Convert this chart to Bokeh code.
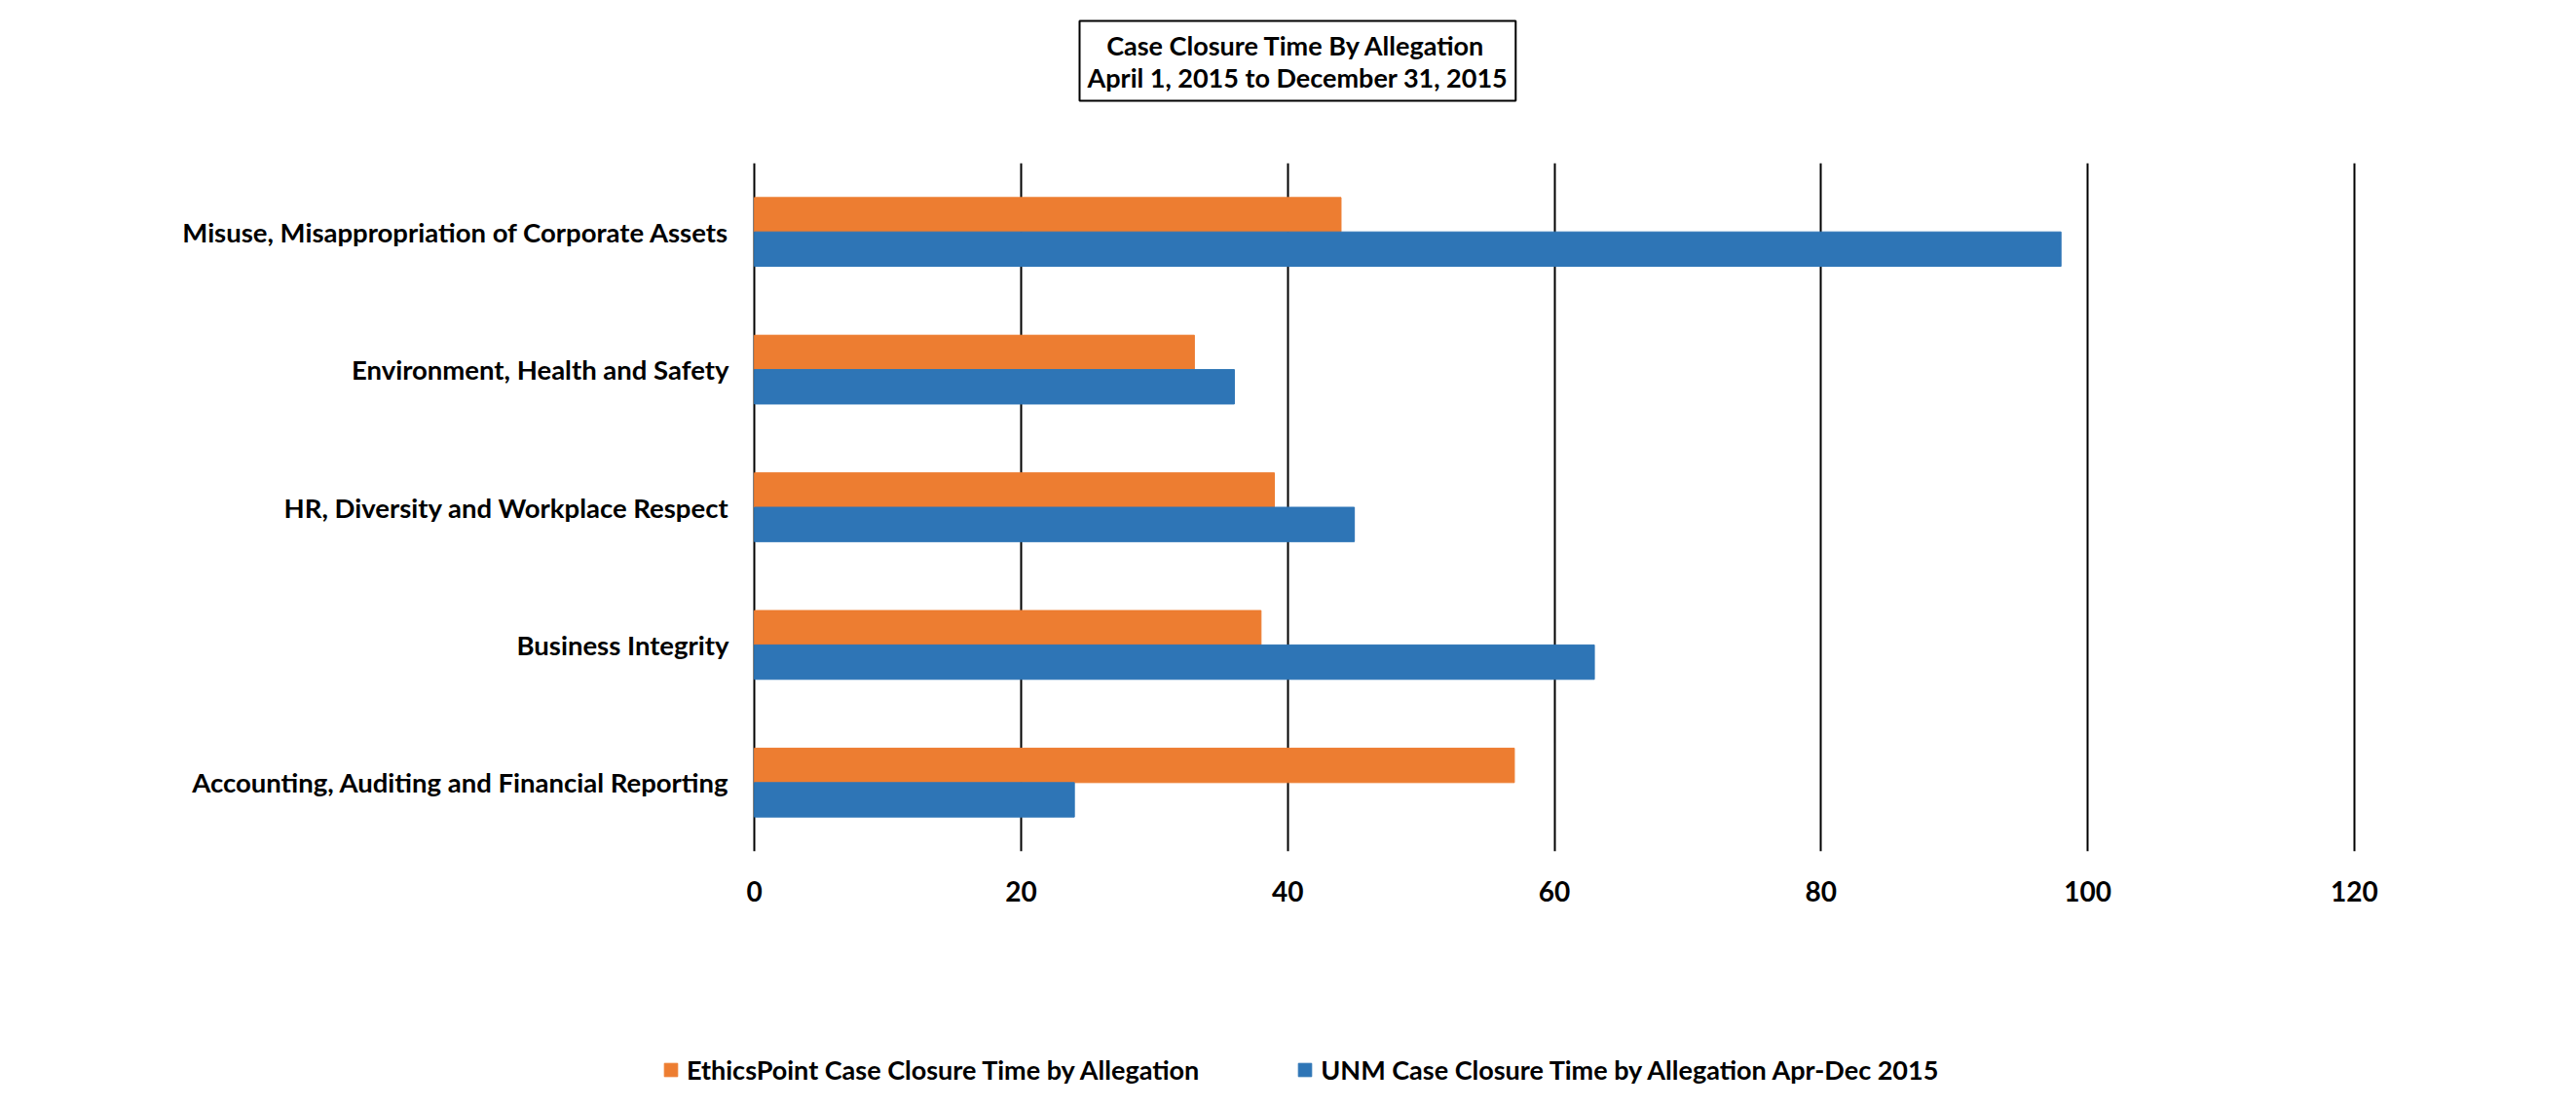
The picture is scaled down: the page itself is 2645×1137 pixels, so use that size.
from bokeh.plotting import figure
from bokeh.layouts import column
from bokeh.models import Legend, LegendItem, ColumnDataSource, FactorRange, FixedTicker, Title
from bokeh.transform import dodge
from bokeh.embed import file_html
from bokeh.resources import INLINE

categories = [
    "Accounting, Auditing and Financial Reporting",
    "Business Integrity",
    "HR, Diversity and Workplace Respect",
    "Environment, Health and Safety",
    "Misuse, Misappropriation of Corporate Assets",
]
ethicspoint = [57, 38, 39, 33, 44]
unm = [24, 63, 45, 36, 98]
x_ticks = [0, 20, 40, 60, 80, 100, 120]
series_names = ["EthicsPoint Case Closure Time by Allegation",
                "UNM Case Closure Time by Allegation Apr-Dec 2015"]
title_lines = ["Case Closure Time By Allegation", "April 1, 2015 to December 31, 2015"]

FONT = "Lato"
ORANGE = "#ED7D31"
BLUE = "#2E75B6"

src = ColumnDataSource(dict(cat=categories, ep=ethicspoint, unm=unm))

W, H = 2645, 1137
MAIN_H = 1060

p = figure(width=W, height=MAIN_H, y_range=FactorRange(*categories, range_padding=0),
           x_range=(-0.3, 120.3), output_backend="svg", toolbar_location=None,
           title=None, frame_align=False,
           min_border_left=770, min_border_right=W - 2421,
           min_border_top=167, min_border_bottom=MAIN_H - 874)

r1 = p.hbar(y=dodge("cat", 0.125, range=p.y_range), right="ep", left=0, height=0.25,
            source=src, color=ORANGE)
r2 = p.hbar(y=dodge("cat", -0.125, range=p.y_range), right="unm", left=0, height=0.25,
            source=src, color=BLUE)

p.outline_line_color = None
p.background_fill_color = "white"
p.border_fill_color = "white"

p.xgrid.ticker = FixedTicker(ticks=x_ticks)
p.xgrid.grid_line_color = "black"
p.xgrid.grid_line_width = 2
p.ygrid.grid_line_color = None

p.xaxis.ticker = FixedTicker(ticks=x_ticks)
p.xaxis.axis_line_color = None
p.xaxis.major_tick_line_color = None
p.xaxis.minor_tick_line_color = None
p.xaxis.major_label_text_font = FONT
p.xaxis.major_label_text_font_style = "bold"
p.xaxis.major_label_text_font_size = "28px"
p.xaxis.major_label_text_color = "black"
p.xaxis.major_label_standoff = 24

p.yaxis.axis_line_color = None
p.yaxis.major_tick_line_color = None
p.yaxis.minor_tick_line_color = None
p.yaxis.major_label_text_font = FONT
p.yaxis.major_label_text_font_style = "bold"
p.yaxis.major_label_text_font_size = "27.5px"
p.yaxis.major_label_text_color = "black"
p.yaxis.major_label_standoff = 16

# spacer between title box and plot frame
spacer = Title(text=" ", text_font_size="1px", standoff=43)
p.add_layout(spacer, "above")

title = Title(text="\u00a0" * 3 + title_lines[0] + "\n" + title_lines[1],
              text_font=FONT, text_font_style="bold",
              text_font_size="27px", text_color="black", align="left", offset=338,
              border_line_color="black", border_line_width=2, padding=8,
              standoff=36)
p.add_layout(title, "above")

# legend strip below the chart (same data, bars kept outside its visible range)
lf = figure(width=W, height=H - MAIN_H, x_range=(-10, -5),
            y_range=FactorRange(*categories), x_axis_type=None, y_axis_type=None,
            output_backend="svg", toolbar_location=None, min_border=0,
            frame_align=False)
lf.outline_line_color = None
lf.grid.grid_line_color = None
lf.border_fill_color = "white"
lf.background_fill_color = "white"
lr1 = lf.hbar(y="cat", right="ep", left=0, height=0.25, source=src, color=ORANGE)
lr2 = lf.hbar(y="cat", right="unm", left=0, height=0.25, source=src, color=BLUE)

legend = Legend(items=[LegendItem(label=series_names[0], renderers=[lr1]),
                       LegendItem(label=series_names[1], renderers=[lr2])],
                orientation="horizontal", location=(680, 22))
legend.label_text_font = FONT
legend.label_text_font_style = "bold"
legend.label_text_font_size = "27px"
legend.label_text_color = "black"
legend.glyph_width = 17
legend.glyph_height = 17
legend.label_standoff = 8
legend.spacing = 100
legend.padding = 0
legend.margin = 0
legend.border_line_color = None
legend.background_fill_alpha = 0
lf.add_layout(legend, "center")

layout = column(p, lf, spacing=0)
open("out.html", "w").write(file_html(layout, INLINE))
